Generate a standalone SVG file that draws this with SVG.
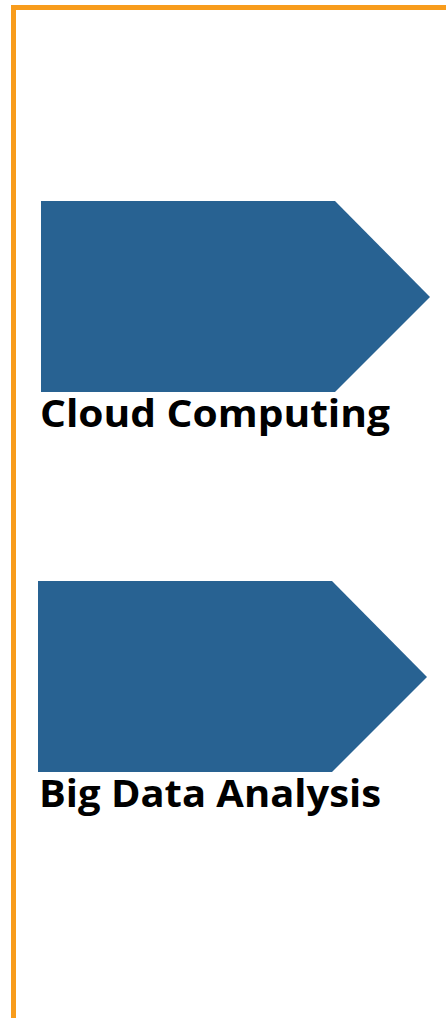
<svg xmlns="http://www.w3.org/2000/svg" width="446" height="1018" viewBox="0 0 446 1018">
<style>
.frame{fill:none;stroke:#F89C1C;stroke-width:5}
.arrow{fill:#286292;stroke:none}
.lbl{font-family:"Open Sans","Liberation Sans",sans-serif;font-weight:bold;font-size:38px;fill:#000}
</style>
<rect width="446" height="1018" fill="#fff"/>
<path class="frame" d="M13.5,1018 V7.5 H446"/>
<g id="node-cloud">
<polygon class="arrow" points="41,201 335,201 430,297 335,392 41,392"/>
<text class="lbl" x="40" y="427" textLength="350" lengthAdjust="spacingAndGlyphs">Cloud Computing</text>
</g>
<g id="node-bigdata">
<polygon class="arrow" points="38,581 332,581 427,677 332,772 38,772"/>
<text class="lbl" x="39" y="807" textLength="342" lengthAdjust="spacingAndGlyphs">Big Data Analysis</text>
</g>
<g id="connectors"/>
</svg>
